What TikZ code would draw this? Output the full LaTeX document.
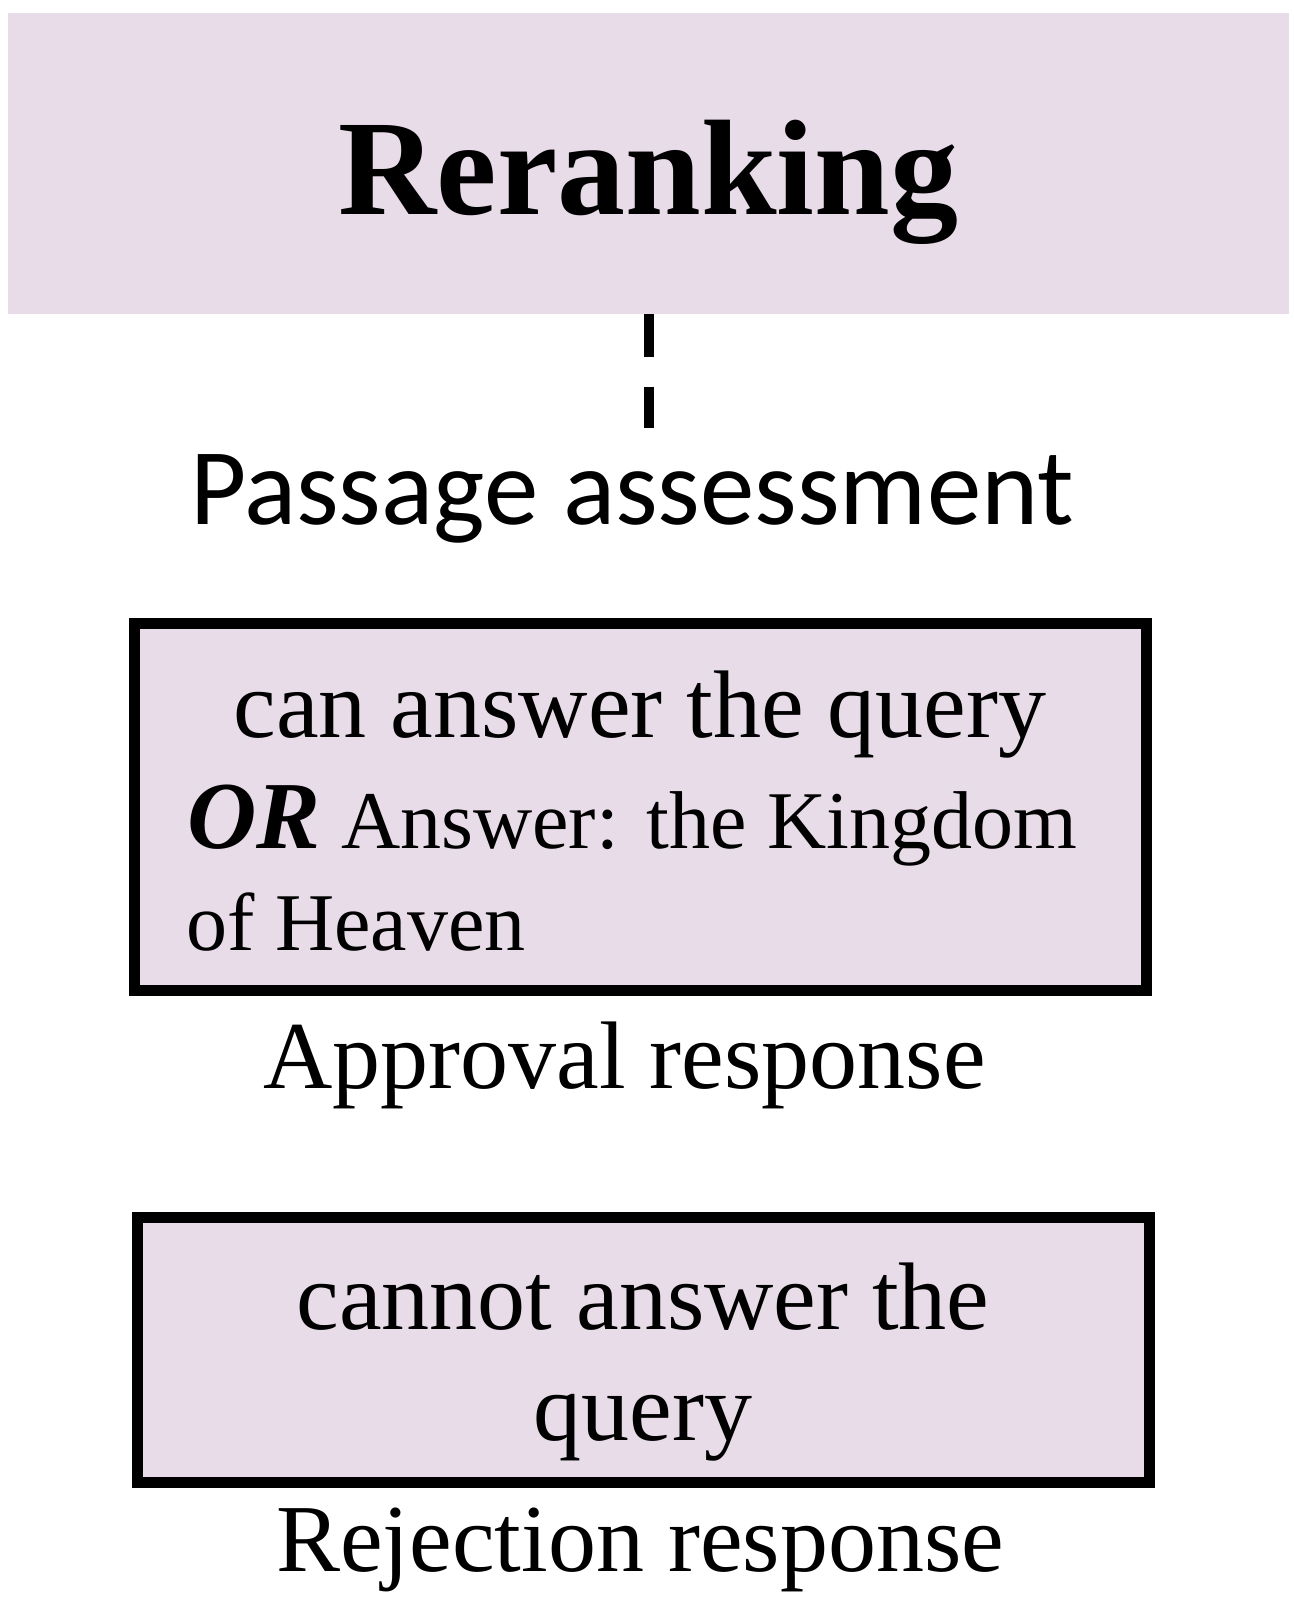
\documentclass[tikz,border=0pt]{standalone}
\usepackage{fontspec}
\setmainfont{Liberation Serif}
\newfontfamily\calibri{Carlito}
\definecolor{boxfill}{RGB}{232,220,232}
\begin{document}
\begin{tikzpicture}[x=0.5pt,y=-0.5pt,
  txt/.style={inner sep=0pt, anchor=base, font=\fontsize{48}{58}\selectfont},
  small/.style={inner sep=0pt, anchor=base west, font=\fontsize{41}{50}\selectfont},
  panel/.style={draw=black, line width=5.5pt, fill=boxfill, inner sep=0pt},
  link/.style={draw=black, line width=5pt, dash pattern=on 21.5pt off 15pt}]
\useasboundingbox (0,0) rectangle (1294,1601);
% top band
\node[fill=boxfill, draw=none, inner sep=0pt, minimum width=640.5pt, minimum height=150.5pt] (top) at (648.5,163.5) {};
\node[inner sep=0pt, anchor=base, font=\fontsize{68}{80}\selectfont\bfseries] (rerank) at (648.5,214) {Reranking};
% dashed connector
\coordinate (dend) at (648.5,428);
\draw[link] (top.south -| dend) -- (dend);
% passage assessment
\node[inner sep=0pt, anchor=base, font=\fontsize{54.5}{64}\selectfont\calibri] (pa) at (632,524) {Passage assessment};
% approval box
\node[panel, minimum width=506pt, minimum height=183.5pt] (box1) at (640.5,807) {};
\node[txt] (l1) at (640,737) {can answer the query};
\node[small] (l2) at (187,848) {{\fontsize{48}{58}\selectfont\bfseries\itshape OR} Answer: the Kingdom};
\node[small] (l3) at (186,950) {of Heaven};
\node[txt] (appr) at (624.5,1088) {Approval response};
% rejection box
\node[panel, minimum width=506pt, minimum height=132.5pt] (box2) at (643.5,1350) {};
\node[txt] (r1) at (643,1329) {cannot answer the};
\node[txt] (r2) at (643,1440) {query};
\node[txt] (rej) at (640,1571) {Rejection response};
\end{tikzpicture}
\end{document}
